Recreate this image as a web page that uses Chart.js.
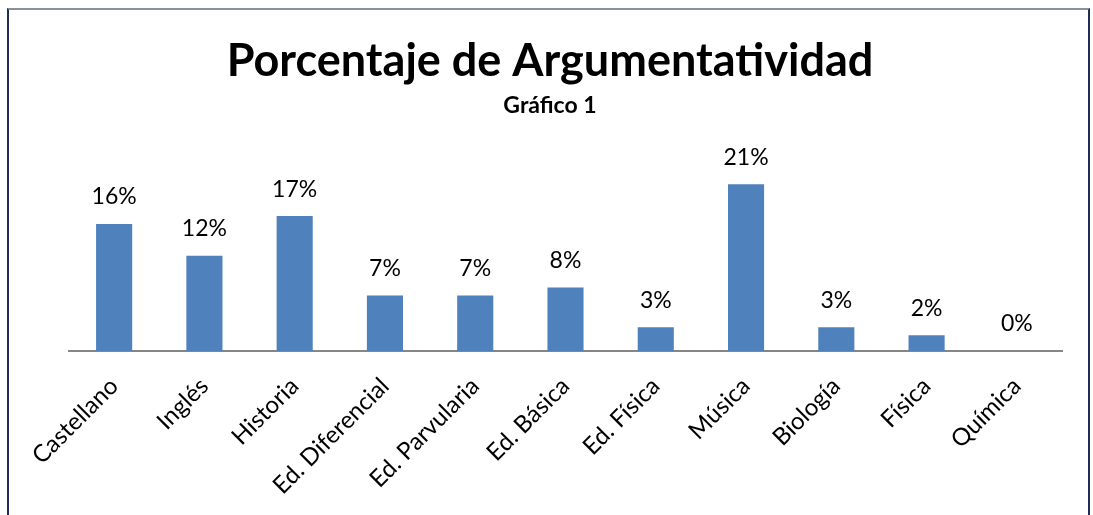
<!DOCTYPE html>
<html>
<head>
<meta charset="utf-8">
<script src="https://cdn.jsdelivr.net/npm/chart.js@4.4.1/dist/chart.umd.min.js"></script>
<style>
  html, body { margin: 0; padding: 0; background: #ffffff; }
  #wrap { position: relative; width: 1093px; height: 515px; overflow: hidden; }
  #frame { position: absolute; left: 7px; top: 8px; width: 1083px; height: 520px;
           border-top: 2px solid #8a9099; border-left: 2px solid #1f2d57; border-right: 2px solid #1f2d57;
           box-sizing: border-box; pointer-events: none; }
  canvas { position: absolute; left: 0; top: 0; }
</style>
</head>
<body>
<div id="wrap">
  <canvas id="c" width="1093" height="515"></canvas>
  <div id="frame"></div>
</div>
<script>
const categories = ["Castellano", "Inglés", "Historia", "Ed. Diferencial", "Ed. Parvularia", "Ed. Básica", "Ed. Física", "Música", "Biología", "Física", "Química"];
const percentages = [16, 12, 17, 7, 7, 8, 3, 21, 3, 2, 0];
const chartTitle = "Porcentaje de Argumentatividad";
const chartSubtitle = "Gráfico 1";

const FONT = "Lato, 'Open Sans', sans-serif";

const valueLabels = {
  id: 'valueLabels',
  afterDatasetsDraw(chart) {
    const ctx = chart.ctx;
    const meta = chart.getDatasetMeta(0);
    ctx.save();
    ctx.font = "23px " + FONT;
    ctx.fillStyle = "#000000";
    ctx.textAlign = "center";
    ctx.textBaseline = "middle";
    meta.data.forEach((bar, i) => {
      ctx.fillText(percentages[i] + "%", bar.x, bar.y - 27);
    });
    ctx.restore();
  }
};

new Chart(document.getElementById('c'), {
  type: 'bar',
  data: {
    labels: categories,
    datasets: [{
      data: percentages,
      backgroundColor: '#4f81bd',
      borderWidth: 0,
      categoryPercentage: 0.4,
      barPercentage: 1.0
    }]
  },
  options: {
    responsive: false,
    animation: false,
    layout: { padding: { left: 38, right: 31, top: 0, bottom: 0 } },
    plugins: {
      legend: { display: false },
      tooltip: { enabled: false },
      title: {
        display: true,
        text: chartTitle,
        color: '#000000',
        font: { family: FONT, size: 45, weight: 'bold', lineHeight: 1.2 },
        padding: { top: 34, bottom: 0 }
      },
      subtitle: {
        display: true,
        text: chartSubtitle,
        color: '#000000',
        font: { family: FONT, size: 23, weight: 'bold', lineHeight: 1.2 },
        padding: { top: 4, bottom: 33 }
      }
    },
    scales: {
      x: {
        grid: { display: false, drawTicks: false },
        border: { display: true, color: '#868686', width: 2 },
        ticks: {
          color: '#000000',
          font: { family: FONT, size: 24 },
          maxRotation: 45,
          minRotation: 45,
          padding: 21
        },
        afterFit(scale) { scale.height = 164; }
      },
      y: {
        display: true,
        min: 0,
        max: 25,
        grid: { display: false, drawTicks: false },
        border: { display: false },
        ticks: { display: false },
        afterFit(scale) { scale.width = 31; }
      }
    }
  },
  plugins: [valueLabels]
});
</script>
</body>
</html>
